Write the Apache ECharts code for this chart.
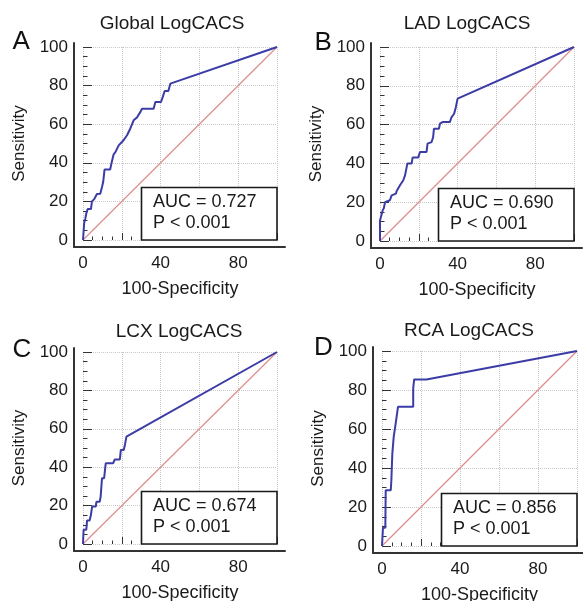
<!DOCTYPE html>
<html>
<head>
<meta charset="utf-8">
<script src="https://cdn.jsdelivr.net/npm/echarts@6/dist/echarts.min.js"></script>
<style>
    html,body{margin:0;padding:0;background:#fff;}
    #main{width:583px;height:601px;}
</style>
</head>
<body>
<div id="main"></div>
<script>
// 面板文字
let panelTitles=["Global LogCACS","LAD LogCACS","LCX LogCACS","RCA LogCACS"];
let panelLetters=["A","B","C","D"];
let aucTexts=["AUC = 0.727","AUC = 0.690","AUC = 0.674","AUC = 0.856"];
let pTexts=["P < 0.001","P < 0.001","P < 0.001","P < 0.001"];
let xAxisName="100-Specificity";
let yAxisName="Sensitivity";
let xLabelValues=[0,40,80];

// ROC 曲线: x = 100-Specificity, y = Sensitivity
let globalX=[0,0.6,1.2,1.7,2.4,4.1,4.6,5.8,7.2,8.9,9.8,10.4,11.1,14.0,14.5,15.8,16.7,18.4,20.9,22.7,24.4,26.1,27.8,29.6,30.4,36.4,37.3,40.2,41.0,42.1,44.0,45.0,45.9,100];
let globalY=[0,8.8,11,13.8,16,16,20,21.2,23.8,24,27.5,30,36.5,36.5,39,44.4,45.5,49,51.7,54.3,57.8,62,63.5,66.4,68,68,71.5,71.5,73.8,77.2,77.2,81,81.2,100];

let ladX=[0,0,0.9,1.4,2.0,2.6,5.1,6.0,8.2,8.6,10.3,12.0,12.9,13.7,14.1,16.3,16.8,19.7,20.6,24.0,24.5,26.6,27.4,27.8,30.4,30.9,32.2,36.0,36.9,38.2,39.1,40.0,100];
let ladY=[0,10.6,11.5,15.8,17,20,21,23.5,24.4,25.8,28.7,31.3,33.8,34.7,39.9,39.9,43,43,45.9,45.9,50.2,51,53.6,57.9,57.9,60.5,61.3,61.3,63.9,65.6,69,73.4,100];

let lcxX=[0,0.3,1.7,2.1,3.4,4.0,4.7,6.6,6.9,8.6,9.1,9.8,10.9,11.7,15.5,16.4,19.0,19.5,21.0,21.6,22.4,100];
let lcxY=[0,7.4,7.4,12.3,12.3,14.7,19.5,19.5,22,22,24.7,34.3,34.3,42,42,44,44,49,49,51.6,55.9,100];

let rcaX=[0,0.5,1.7,1.9,4.5,4.8,5.3,6.0,6.9,7.7,8.2,16.0,16.0,16.5,16.5,22.8,100];
let rcaY=[0,9.4,9.4,28.6,28.6,33.7,47.4,56,62,62,71.4,71.4,80.8,80.8,85.4,85.4,100];

// 参考线
let refX=[0,100];
let refY=[0,100];

let curveX=[globalX,ladX,lcxX,rcaX];
let curveY=[globalY,ladY,lcxY,rcaY];

// 布局
let plotRects=[
    {left:83,top:47,width:194,height:193},
    {left:380,top:47,width:194,height:194},
    {left:83,top:352,width:194,height:192},
    {left:382,top:351,width:195,height:195}
];
let titlePos=[[172,23.5],[467,23.5],[179,331.7],[469,331]];
let letterPos=[[12.5,41.5],[314.5,42.5],[12.5,350],[314,347.7]];

let fontName='"Liberation Sans", Arial, sans-serif';
let curveColor="#3c3ca6";
let refColor="#de8c8c";
let gridColor="#c8c8c8";
let axisColor="#333";

function zip(xs,ys){
    let out=[];
    for(let i=0;i<xs.length;i++){
        out.push([xs[i],ys[i]]);
    }
    return out;
}

let grids=[];
let xAxes=[];
let yAxes=[];
let series=[];

for(let i=0;i<4;i++){
    let r=plotRects[i];
    grids.push({left:r.left,top:r.top,width:r.width,height:r.height,outerBoundsMode:"none"});
    xAxes.push({
        gridIndex:i,type:"value",min:0,max:100,interval:20,offset:7,
        name:xAxisName,nameLocation:"middle",nameGap:33,
        nameTextStyle:{fontFamily:fontName,fontSize:18,color:"#1a1a1a"},
        axisLine:{show:false},
        axisTick:{show:true,inside:true,length:7,lineStyle:{color:axisColor,width:1}},
        minorTick:{show:true,splitNumber:4,length:3.5,lineStyle:{color:axisColor,width:1}},
        axisLabel:{customValues:xLabelValues,margin:8,fontFamily:fontName,fontSize:17,color:"#1a1a1a"},
        splitLine:{show:true,lineStyle:{color:gridColor,width:1,type:"dotted"}}
    });
    yAxes.push({
        gridIndex:i,type:"value",min:0,max:100,interval:20,offset:9,
        name:yAxisName,nameLocation:"middle",nameGap:46,
        nameTextStyle:{fontFamily:fontName,fontSize:17,color:"#1a1a1a"},
        axisLine:{show:false},
        axisTick:{show:true,inside:true,length:9,lineStyle:{color:axisColor,width:1}},
        minorTick:{show:true,splitNumber:4,length:4.5,lineStyle:{color:axisColor,width:1}},
        axisLabel:{margin:6,fontFamily:fontName,fontSize:17,color:"#1a1a1a"},
        splitLine:{show:true,lineStyle:{color:gridColor,width:1,type:"dotted"}}
    });
    series.push({
        type:"line",xAxisIndex:i,yAxisIndex:i,data:zip(refX,refY),
        showSymbol:false,silent:true,z:2,
        lineStyle:{color:refColor,width:1.2}
    });
    series.push({
        type:"line",xAxisIndex:i,yAxisIndex:i,data:zip(curveX[i],curveY[i]),
        showSymbol:false,silent:true,z:3,
        lineStyle:{color:curveColor,width:2}
    });
}

// 外框坐标轴线(左、下), 比绘图区略宽
for(let i=0;i<4;i++){
    let r=plotRects[i];
    grids.push({left:r.left-9,top:r.top-4,width:r.width+17,height:r.height+11,outerBoundsMode:"none"});
    xAxes.push({
        gridIndex:4+i,type:"value",min:0,max:1,
        axisLine:{show:true,onZero:false,lineStyle:{color:axisColor,width:2}},
        axisTick:{show:false},axisLabel:{show:false},splitLine:{show:false}
    });
    yAxes.push({
        gridIndex:4+i,type:"value",min:0,max:1,
        axisLine:{show:true,onZero:false,lineStyle:{color:axisColor,width:2}},
        axisTick:{show:false},axisLabel:{show:false},splitLine:{show:false}
    });
}

let myChart=echarts.init(document.getElementById("main"));
myChart.setOption({
    animation:false,
    backgroundColor:"#fff",
    grid:grids,
    xAxis:xAxes,
    yAxis:yAxes,
    series:series
});

// 标题、字母、AUC 框
let graphics=[];
for(let i=0;i<4;i++){
    graphics.push({
        type:"text",x:titlePos[i][0],y:titlePos[i][1],
        style:{text:panelTitles[i],font:"19px "+fontName,fill:"#1a1a1a",align:"center",verticalAlign:"middle"}
    });
    graphics.push({
        type:"text",x:letterPos[i][0],y:letterPos[i][1],
        style:{text:panelLetters[i],font:"26px "+fontName,fill:"#111",align:"left",verticalAlign:"middle"}
    });
    let corner=myChart.convertToPixel({gridIndex:i},[100,0]);
    let boxW=135.5,boxH=52.5;
    let bx=corner[0]-boxW,by=corner[1]-boxH;
    graphics.push({
        type:"rect",z:50,
        shape:{x:bx,y:by,width:boxW,height:boxH},
        style:{fill:"#fff",stroke:"#1a1a1a",lineWidth:1.6}
    });
    graphics.push({
        type:"text",z:51,x:bx+11.5,y:by+15,
        style:{text:aucTexts[i],font:"18px "+fontName,fill:"#1a1a1a",align:"left",verticalAlign:"middle"}
    });
    graphics.push({
        type:"text",z:51,x:bx+11.5,y:by+36,
        style:{text:pTexts[i],font:"18px "+fontName,fill:"#1a1a1a",align:"left",verticalAlign:"middle"}
    });
}
myChart.setOption({graphic:graphics});
</script>
</body>
</html>
